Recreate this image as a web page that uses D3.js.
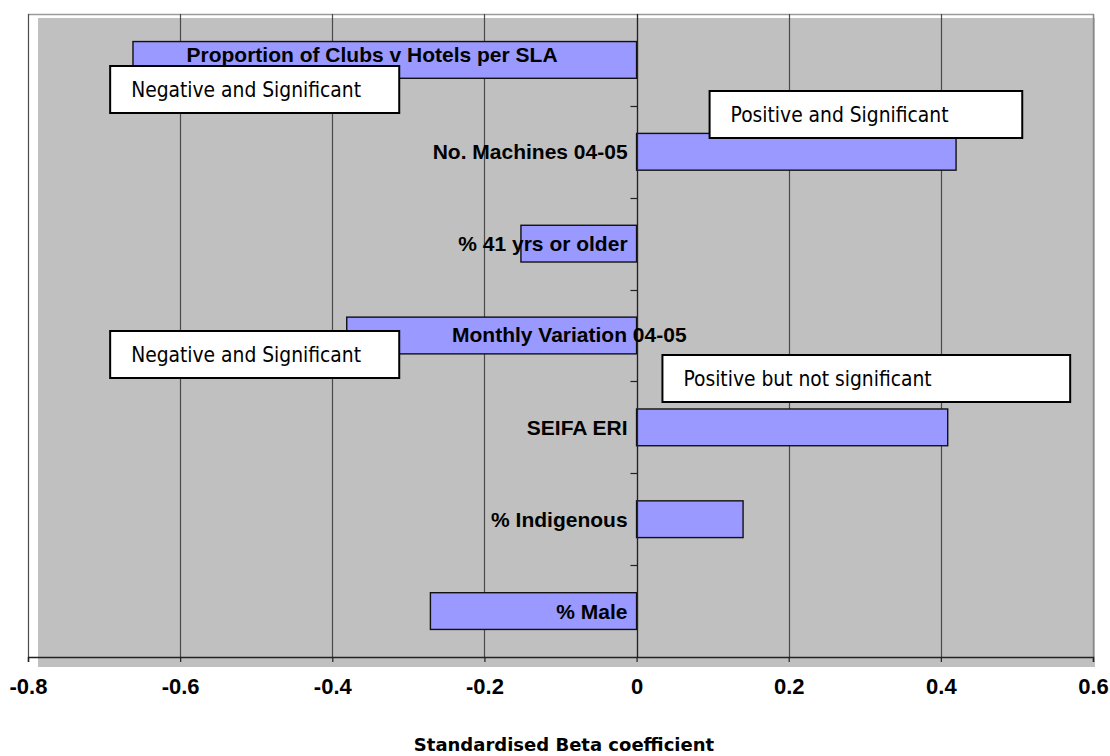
<!DOCTYPE html>
<html>
<head>
<meta charset="utf-8">
<script src="https://cdn.jsdelivr.net/npm/d3@7"></script>
<style>
  html, body { margin: 0; padding: 0; background: #fff; }
  svg { display: block; }
</style>
</head>
<body>
<svg id="chart" width="1110" height="756"></svg>
<script>
// Predictors and their standardised beta coefficients (top to bottom)
const categories = [
  "Proportion of Clubs v Hotels per SLA",
  "No. Machines 04-05",
  "% 41 yrs or older",
  "Monthly Variation 04-05",
  "SEIFA ERI",
  "% Indigenous",
  "% Male"
];
const betaValues = [-0.662, 0.42, -0.152, -0.381, 0.409, 0.14, -0.271];
const xTicks = [-0.8, -0.6, -0.4, -0.2, 0, 0.2, 0.4, 0.6];
const xTickLabels = ["-0.8", "-0.6", "-0.4", "-0.2", "0", "0.2", "0.4", "0.6"];

// Annotation call-outs: text, left and right edge (in beta units)
const noteTexts = ["Negative and Significant", "Positive and Significant", "Negative and Significant", "Positive but not significant"];
const noteValues = [-0.692, 0.096, -0.692, 0.034];
const noteRightValues = [-0.312, 0.507, -0.312, 0.570];
const axisTitle = "Standardised Beta coefficient";

const svg = d3.select("#chart");
const plot = { left: 28, right: 1093, top: 14, bottom: 657 };

const x = d3.scaleLinear().domain([-0.8, 0.6]).range([plot.left, plot.right]);
const y = d3.scaleBand().domain(categories).range([plot.top, plot.bottom]).paddingInner(0).paddingOuter(0);
const bw = y.bandwidth();

const labelFont = "Liberation Sans, Arial, sans-serif";
const noteFont = "DejaVu Sans Condensed, DejaVu Sans, Verdana, sans-serif";

// Plot area: shaded fill slightly offset from the frame
svg.append("rect")
  .attr("x", plot.left + 10).attr("y", plot.top + 4)
  .attr("width", plot.right - plot.left - 8)
  .attr("height", plot.bottom - plot.top + 6)
  .attr("fill", "#c0c0c0");

// Frame top and right edges
svg.append("path")
  .attr("d", `M${plot.left},${plot.top + 0.5}H${plot.right + 0.5}V${plot.bottom}`)
  .attr("fill", "none").attr("stroke", "#9a9a9a").attr("stroke-width", 1.5);

// Vertical gridlines
svg.append("g").selectAll("line").data(xTicks).join("line")
  .attr("x1", d => Math.round(x(d)) + 0.5).attr("x2", d => Math.round(x(d)) + 0.5)
  .attr("y1", plot.top).attr("y2", plot.bottom)
  .attr("stroke", d => d === 0.6 ? "#888" : "#4a4a4a").attr("stroke-width", 1.2);

// Bars
svg.append("g").selectAll("rect").data(betaValues).join("rect")
  .attr("x", d => x(Math.min(0, d)))
  .attr("width", d => Math.abs(x(d) - x(0)))
  .attr("y", (d, i) => y(categories[i]) + bw * 0.3)
  .attr("height", bw * 0.4)
  .attr("fill", "#9999ff")
  .attr("stroke", "#111").attr("stroke-width", 1.4);

// Zero axis with category separators
const x0 = Math.round(x(0)) + 0.5;
svg.append("line")
  .attr("x1", x0).attr("x2", x0).attr("y1", plot.top).attr("y2", plot.bottom)
  .attr("stroke", "#222").attr("stroke-width", 1.2);
svg.append("g").selectAll("line").data(d3.range(1, categories.length)).join("line")
  .attr("x1", x0 - 7).attr("x2", x0)
  .attr("y1", i => Math.round(plot.top + i * bw) + 0.5)
  .attr("y2", i => Math.round(plot.top + i * bw) + 0.5)
  .attr("stroke", "#222").attr("stroke-width", 1.2);

// Bottom axis
const xAxis = d3.axisBottom(x).tickValues(xTicks)
  .tickFormat((d, i) => xTickLabels[i]).tickSize(5).tickPadding(20);
const gx = svg.append("g").attr("transform", `translate(0,${plot.bottom})`).call(xAxis);
gx.select(".domain").attr("stroke", "#222").attr("stroke-width", 1.5);
gx.selectAll(".tick line").attr("stroke", "#222").attr("stroke-width", 1.2);
gx.selectAll(".tick text")
  .attr("y", 37).attr("dy", 0)
  .attr("font-family", labelFont)
  .attr("font-size", 22).attr("font-weight", "bold").attr("fill", "#000");

// Category labels next to the zero line (two long labels are nudged off the axis)
const labelShift = i => i === 0 ? -79 : (i === 3 ? 50 : -9);
svg.append("g").selectAll("text").data(categories).join("text")
  .attr("x", (d, i) => x(0) + labelShift(i))
  .attr("y", (d, i) => y(d) + bw / 2 + (i === 0 ? 2 : (i === 3 ? 6 : 7.5)))
  .attr("text-anchor", "end")
  .attr("font-family", labelFont)
  .attr("font-size", 21).attr("font-weight", "bold").attr("fill", "#000")
  .text(d => d);

// Annotation boxes
const notes = svg.append("g").selectAll("g").data(noteTexts).join("g");
const boxTop = [66, 91, 331, 355];
notes.append("rect")
  .attr("x", (d, i) => x(noteValues[i]))
  .attr("y", (d, i) => boxTop[i])
  .attr("width", (d, i) => x(noteRightValues[i]) - x(noteValues[i]))
  .attr("height", 47)
  .attr("fill", "#fff").attr("stroke", "#000").attr("stroke-width", 2);
notes.append("text")
  .attr("x", (d, i) => x(noteValues[i]) + 21)
  .attr("y", (d, i) => boxTop[i] + 31)
  .attr("font-family", noteFont)
  .attr("font-size", 20.8).attr("fill", "#000")
  .text(d => d);

// Axis title
svg.append("text")
  .attr("x", 564).attr("y", 751)
  .attr("text-anchor", "middle")
  .attr("font-family", "DejaVu Sans, Verdana, sans-serif")
  .attr("font-size", 18).attr("font-weight", "bold").attr("fill", "#000")
  .text(axisTitle);
</script>
</body>
</html>
